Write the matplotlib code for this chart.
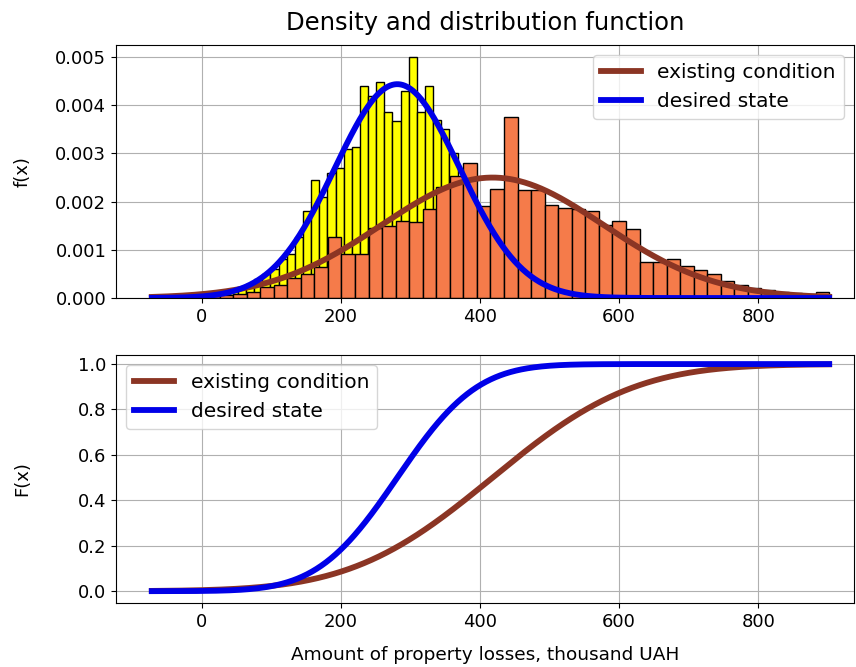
import numpy as np
import matplotlib
matplotlib.use("Agg")
import matplotlib.pyplot as plt
from math import erf, sqrt

# ---- data ----
# existing condition histogram (density), 50 equal bins
existing_bin_start = -72.0
existing_bin_width = 19.48
existing_heights = [
    0.00002, 0.00002, 0.00003, 0.00004, 0.00005, 0.00006, 0.00008, 0.00013, 0.00023, 0.00026,
    0.00042, 0.00049, 0.00065, 0.00127, 0.00091, 0.00091, 0.00146, 0.00150, 0.00160, 0.00158,
    0.00185, 0.00230, 0.00254, 0.00280, 0.00190, 0.00227, 0.00375, 0.00224, 0.00224, 0.00194,
    0.00186, 0.00185, 0.00180, 0.00151, 0.00160, 0.00143, 0.00074, 0.00074, 0.00080, 0.00067,
    0.00058, 0.00050, 0.00035, 0.00028, 0.00021, 0.00016, 0.00012, 0.00010, 0.00008, 0.00013,
]

# desired state histogram (density)
desired_bin_start = 5.0
desired_bin_width = 11.70
desired_heights = [
    0.00005, 0.00008, 0.00010, 0.00015,
    0.00020, 0.00030, 0.00040, 0.00050, 0.00060, 0.00080, 0.00092, 0.00126,
    0.00181, 0.00245, 0.00210, 0.00260, 0.00270, 0.00310, 0.00313, 0.00440, 0.00420, 0.00449,
    0.00386, 0.00367, 0.00430, 0.00500, 0.00386, 0.00440, 0.00370, 0.00350, 0.00300, 0.00220,
    0.00160, 0.00120, 0.00080, 0.00050, 0.00030, 0.00020, 0.00010,
]

# fitted normal distributions
existing_mean, existing_std = 418.0, 159.6
desired_mean, desired_std = 281.0, 89.9
x_min, x_max = -72.0, 902.0

labels = ["existing condition", "desired state"]
brown = "#8b3524"
blue = "#0000e8"

x = np.linspace(x_min, x_max, 1000)


def pdf(v, m, s):
    return np.exp(-0.5 * ((v - m) / s) ** 2) / (s * np.sqrt(2 * np.pi))


def cdf(v, m, s):
    return np.array([0.5 * (1 + erf((t - m) / (s * sqrt(2)))) for t in v])


ex_edges = existing_bin_start + existing_bin_width * np.arange(len(existing_heights) + 1)
de_edges = desired_bin_start + desired_bin_width * np.arange(len(desired_heights) + 1)

fig = plt.figure(figsize=(8.56, 6.67), dpi=100)
ax1 = fig.add_axes([0.1355, 0.5532, 0.862, 0.3793])
ax2 = fig.add_axes([0.1355, 0.0960, 0.862, 0.3718])

fs = 13
lfs = 14.5
ax1.hist(de_edges[:-1], bins=de_edges, weights=desired_heights,
         color="yellow", edgecolor="black", linewidth=1.0)
ax1.hist(ex_edges[:-1], bins=ex_edges, weights=existing_heights,
         color="#f57b4a", edgecolor="black", linewidth=1.0)
ax1.plot(x, pdf(x, existing_mean, existing_std), color=brown, lw=4.2, label=labels[0])
ax1.plot(x, pdf(x, desired_mean, desired_std), color=blue, lw=4.2, label=labels[1])
ax1.set_xlim(-123.5, 937.5)
ax1.set_ylim(0, 0.00525)
ax1.set_xticks([0, 200, 400, 600, 800])
ax1.set_yticks([0, 0.001, 0.002, 0.003, 0.004, 0.005])
ax1.set_yticklabels(["0.000", "0.001", "0.002", "0.003", "0.004", "0.005"])
ax1.grid(True)
ax1.set_axisbelow(True)
ax1.set_ylabel("f(x)", fontsize=fs)
ax1.yaxis.set_label_coords(-0.115, 0.5)
ax1.set_title("Density and distribution function", fontsize=17.5, pad=11)
ax1.legend(loc="upper right", fontsize=lfs)
ax1.tick_params(labelsize=fs)

ax2.plot(x, cdf(x, existing_mean, existing_std), color=brown, lw=4.2, label=labels[0])
ax2.plot(x, cdf(x, desired_mean, desired_std), color=blue, lw=4.2, label=labels[1])
ax2.set_xlim(-123.5, 937.5)
ax2.set_ylim(-0.052, 1.04)
ax2.set_xticks([0, 200, 400, 600, 800])
ax2.set_yticks([0.0, 0.2, 0.4, 0.6, 0.8, 1.0])
ax2.grid(True)
ax2.set_ylabel("F(x)", fontsize=fs)
ax2.yaxis.set_label_coords(-0.115, 0.5)
ax2.set_xlabel("Amount of property losses, thousand UAH", fontsize=13.3, labelpad=11)
ax2.legend(loc="upper left", fontsize=lfs)
ax2.tick_params(labelsize=fs)

fig.savefig("out.png", dpi=100)
